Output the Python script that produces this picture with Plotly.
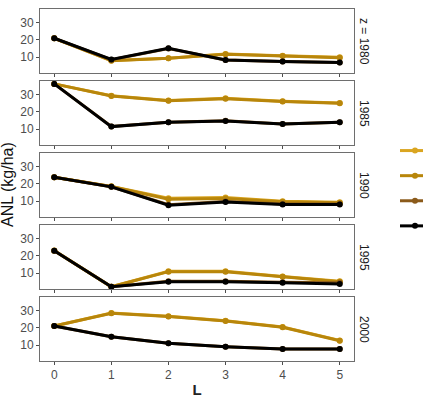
import plotly.graph_objects as go
from plotly.subplots import make_subplots

L = [0, 1, 2, 3, 4, 5]
years = ["1980", "1985", "1990", "1995", "2000"]
strip_labels = ["z = 1980", "1985", "1990", "1995", "2000"]
series_names = ["s = 0.25", "s = 0.5", "s = 0.75", "s = 1"]
series_colors = ["#DAA520", "#B8860B", "#8B5A1A", "#000000"]

# ANL (kg/ha) per series, per panel (year), at L = 0..5
light_gold = {
    "1980": [21.0, 8.0, 9.3, 11.8, 10.8, 9.8],
    "1985": [36.5, 29.6, 26.8, 28.0, 26.3, 25.3],
    "1990": [24.0, 18.6, 11.6, 12.0, 9.8, 9.3],
    "1995": [23.2, 1.9, 11.0, 11.0, 8.0, 5.1],
    "2000": [21.2, 28.8, 26.9, 24.3, 20.6, 12.7],
}
gold = {
    "1980": [21.0, 7.8, 9.2, 11.6, 10.6, 9.6],
    "1985": [36.5, 29.4, 26.6, 27.8, 26.1, 25.1],
    "1990": [24.0, 18.5, 11.0, 11.5, 9.5, 9.0],
    "1995": [23.1, 1.9, 10.8, 10.8, 7.8, 4.9],
    "2000": [21.2, 28.6, 26.7, 24.1, 20.4, 12.5],
}
brown = {
    "1980": [21.0, 8.4, 15.0, 8.3, 7.4, 6.8],
    "1985": [36.5, 11.5, 14.0, 14.8, 13.0, 14.0],
    "1990": [24.0, 18.4, 7.8, 9.7, 8.2, 8.2],
    "1995": [23.1, 1.9, 5.1, 5.1, 4.6, 4.2],
    "2000": [21.2, 14.9, 11.0, 9.0, 7.7, 7.7],
}
black = {
    "1980": [21.0, 8.6, 15.1, 8.2, 7.3, 6.7],
    "1985": [36.5, 11.4, 13.9, 14.7, 12.9, 13.9],
    "1990": [24.0, 18.3, 7.5, 9.4, 8.0, 8.0],
    "1995": [23.1, 1.9, 4.9, 4.9, 4.3, 3.5],
    "2000": [21.2, 14.9, 11.0, 9.0, 7.6, 7.6],
}
all_series = [light_gold, gold, brown, black]

y_ticks = [10, 20, 30]
x_ticks = [0, 1, 2, 3, 4, 5]

fig = make_subplots(rows=5, cols=1, shared_xaxes=True,
                    vertical_spacing=8 / 352)

for r, yr in enumerate(years, start=1):
    for s, (data, name, col) in enumerate(zip(all_series, series_names, series_colors)):
        fig.add_trace(go.Scatter(
            x=L, y=data[yr], mode="lines+markers", name=name,
            line=dict(color=col, width=3),
            marker=dict(color=col, size=6),
            showlegend=(r == 1),
        ), row=r, col=1)

axis_style = dict(showline=True, mirror=True, linecolor="#6E6E6E", linewidth=1,
                  showgrid=False, zeroline=False, ticks="outside", ticklen=3,
                  tickcolor="#4D4D4D", tickfont=dict(family="Liberation Sans, Arial", size=12, color="#4D4D4D"))

for r in range(1, 6):
    fig.update_yaxes(range=[0.6, 38.2], tickvals=y_ticks, row=r, col=1, **axis_style)
    fig.update_xaxes(range=[-0.25, 5.25], tickvals=x_ticks, row=r, col=1,
                     showticklabels=(r == 5), **axis_style)

fig.update_xaxes(title=dict(text="<b>L</b>", font=dict(family="Liberation Sans, Arial", size=15, color="#222"),
                            standoff=3), row=5, col=1)

# strip labels on right
for r, lab in enumerate(strip_labels, start=1):
    yref = "y domain" if r == 1 else f"y{r} domain"
    fig.add_annotation(text=lab, textangle=90, x=1.0, xref="paper", xanchor="left",
                       xshift=1, y=0.5, yref=yref, showarrow=False,
                       font=dict(family="Liberation Sans, Arial", size=12, color="#1A1A1A"))

fig.add_annotation(text="ANL (kg/ha)", textangle=-90, x=0, xref="paper", xanchor="center",
                   xshift=-33, y=0.5, yref="paper", showarrow=False,
                   font=dict(family="Liberation Sans, Arial", size=16, color="#111"))

fig.update_layout(
    width=423, height=400,
    margin=dict(l=40, r=69, t=9, b=39, autoexpand=False),
    paper_bgcolor="white", plot_bgcolor="white",
    legend=dict(x=(395 - 40) / 314, xanchor="left", y=0.49, yanchor="middle",
                tracegroupgap=0,
                font=dict(family="Liberation Sans, Arial", size=17, color="#111"),
                bgcolor="rgba(0,0,0,0)"),
)

fig.write_html("out.html")
